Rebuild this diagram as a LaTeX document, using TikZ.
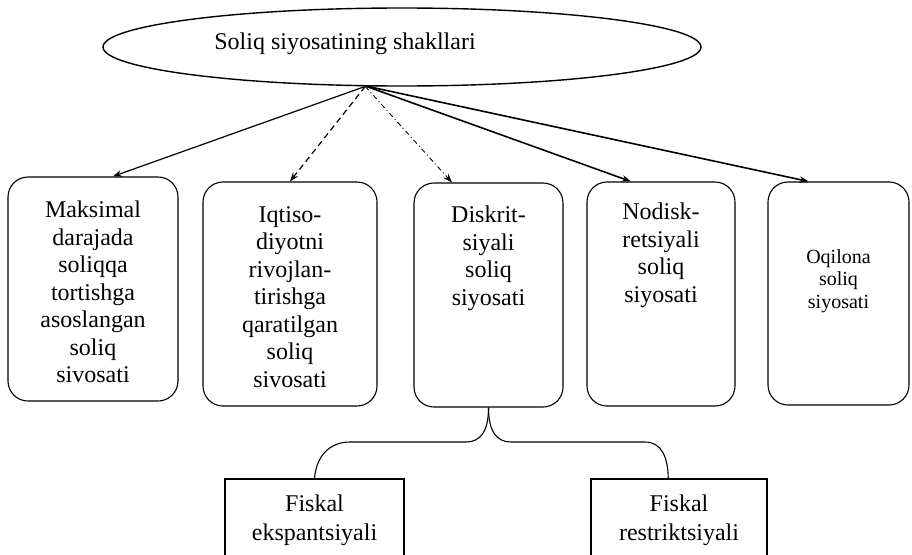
\documentclass[tikz,border=0pt]{standalone}
\usepackage{fontspec}
\setmainfont{Liberation Serif}
\usetikzlibrary{shapes.geometric, arrows.meta}

\tikzset{
  formbox/.style = {draw, line width=1.1pt, rounded corners=20pt, inner sep=0pt, minimum height=224pt},
  fiskbox/.style = {draw, line width=1.1pt, inner sep=0pt, minimum height=121pt},
  boxtext/.style = {anchor=north, inner sep=0pt, align=center, font=\fontsize{24}{27.5}\selectfont},
}

\begin{document}
\begin{tikzpicture}[x=1pt, y=-1pt, >={Stealth[length=9pt, width=6.5pt]}]

\useasboundingbox ( 0, 0 ) rectangle ( 912, 554 );
\clip ( 0, 0 ) rectangle ( 912, 554 );

% Top ellipse
\node [draw, ellipse, line width=1.4pt, minimum width=598pt, minimum height=78pt, inner sep=0pt] (forms) at ( 402, 47 ) {};
\node [font=\fontsize{24}{28}\selectfont] (title) at ( 345, 44 ) {Soliq siyosatining shakllari};

% Forms
\node [formbox, minimum width=170pt] (maks) at ( 93, 289 ) {};
\node [formbox, minimum width=174pt] (iqtiso) at ( 290, 294 ) {};
\node [formbox, minimum width=149pt] (diskr) at ( 488.5, 295 ) {};
\node [formbox, minimum width=148pt] (nodisk) at ( 661, 294 ) {};
\node [formbox, minimum width=141pt, minimum height=223pt] (oqilona) at ( 838.5, 293.5 ) {};

\node [boxtext] (maks-t) at ( 93, 201 ) {Maksimal\\darajada\\soliqqa\\tortishga\\asoslangan\\soliq\\sivosati};
\node [boxtext] (iqtiso-t) at ( 290, 206 ) {Iqtiso-\\diyotni\\rivojlan-\\tirishga\\qaratilgan\\soliq\\sivosati};
\node [boxtext] (diskr-t) at ( 488.5, 206 ) {Diskrit-\\siyali\\soliq\\siyosati};
\node [boxtext] (nodisk-t) at ( 661, 203 ) {Nodisk-\\retsiyali\\soliq\\siyosati};
\node [boxtext, font=\fontsize{20}{22.5}\selectfont] (oqilona-t) at ( 838.5, 249 ) {Oqilona\\soliq\\siyosati};

% Arrows
\draw [->, line width=1.2pt] (forms.-133) -- (maks.80);
\draw [->, line width=1.2pt, dash pattern=on 6pt off 4pt] (forms.-133) -- (iqtiso.north);
\draw [->, line width=0.9pt, dash pattern=on 5pt off 3pt on 1pt off 3pt] (forms.-133) -- (diskr.108);
\draw [->, line width=1.6pt] (forms.-132) -- (nodisk.105);
\draw [->, line width=1.6pt] (forms.-131) -- (oqilona.105);

% Fiscal kinds
\node [fiskbox, minimum width=179pt] (ekspan) at ( 314.5, 539.5 ) {};
\node [fiskbox, minimum width=176pt] (restr) at ( 679, 539.5 ) {};

\node [boxtext, font=\fontsize{24}{29}\selectfont] (ekspan-t) at ( 314.5, 495 ) {Fiskal\\ekspantsiyali};
\node [boxtext, font=\fontsize{24}{29}\selectfont] (restr-t) at ( 679, 495 ) {Fiskal\\restriktsiyali};

% Brace
\draw [line width=1.1pt] (diskr.south) .. controls ( 488.5, 432 ) and ( 480, 442 ) .. ( 466, 442 ) -- ( 350, 442 ) .. controls ( 328, 442 ) and ( 316, 458 ) .. (ekspan.north);
\draw [line width=1.1pt] (diskr.south) .. controls ( 488.5, 432 ) and ( 497, 442 ) .. ( 511, 442 ) -- ( 645, 442 ) .. controls ( 662, 442 ) and ( 668, 458 ) .. (restr.100);

\end{tikzpicture}
\end{document}
